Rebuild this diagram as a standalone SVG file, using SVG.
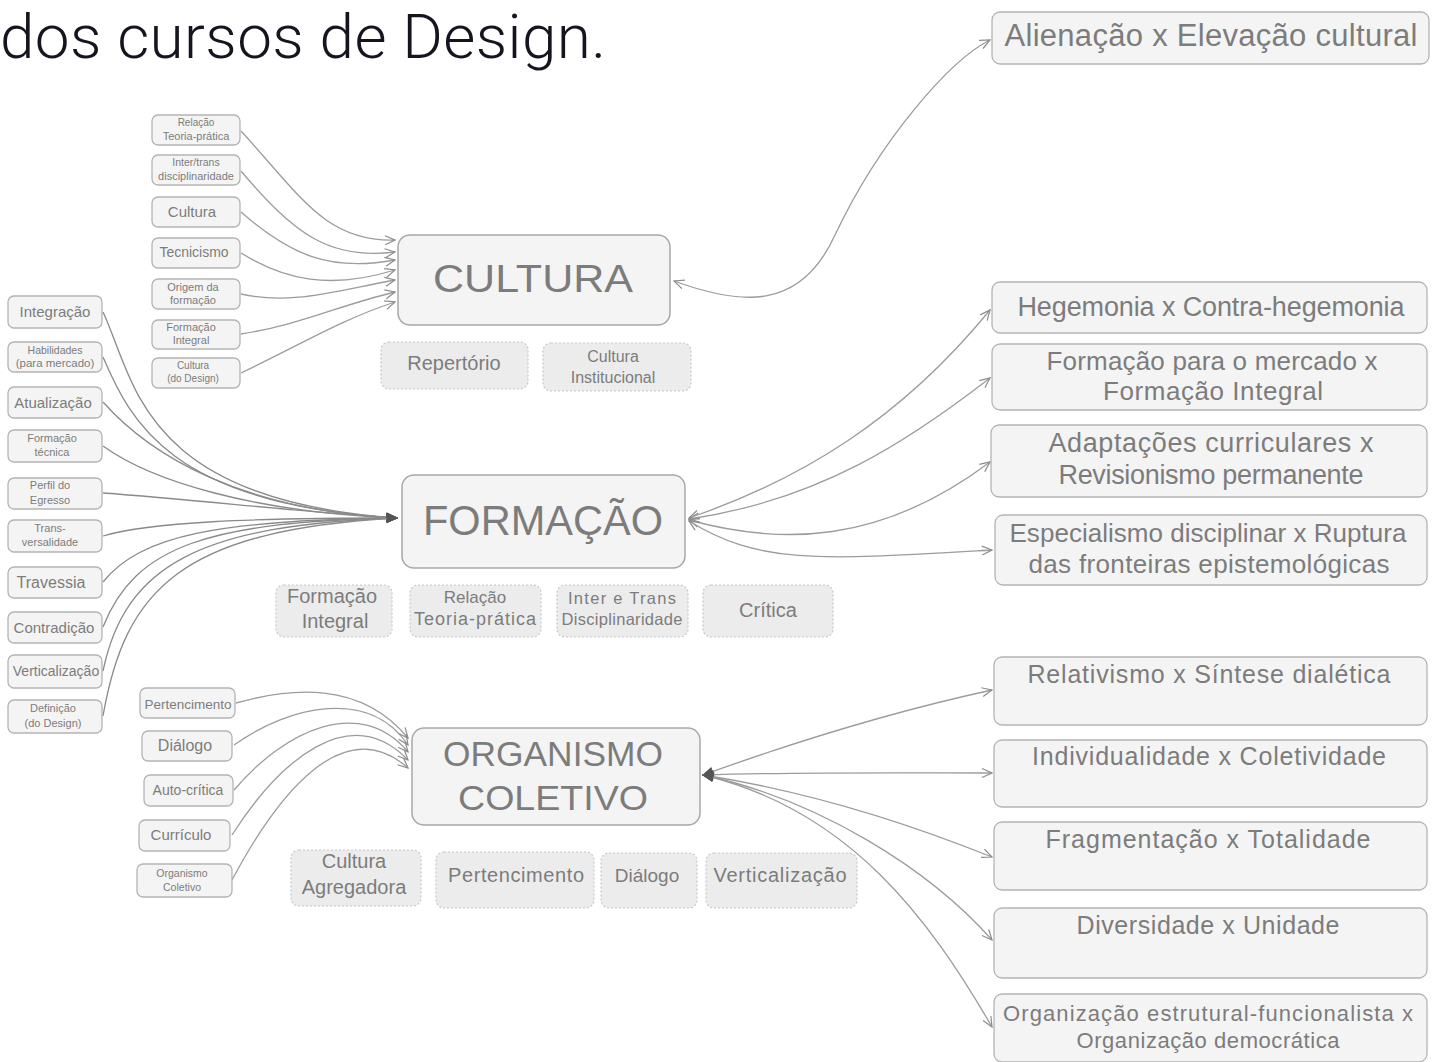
<svg xmlns="http://www.w3.org/2000/svg" width="1442" height="1062" viewBox="0 0 1442 1062">
<style>
  .title{font-family:Roboto,"Liberation Sans",sans-serif;font-weight:300;fill:#15151f}
  .t{font-family:"Liberation Sans","DejaVu Sans",sans-serif;fill:#7c7c7c;text-anchor:middle}
  .main{fill:#f4f4f4;stroke:#a8a8a8;stroke-width:1.5}
  .box{fill:#f4f4f4;stroke:#b4b4b4;stroke-width:1.3}
  .sub{fill:#ececec;stroke:#c8c8c8;stroke-width:1.2;stroke-dasharray:2 2}
  .c{fill:none;stroke:#9c9c9c;stroke-width:1.3}
  .cd{fill:none;stroke:#8a8a8a;stroke-width:1.3}
</style>
<defs>
  <marker id="ah" viewBox="0 0 12 12" refX="11" refY="6" markerWidth="12" markerHeight="12" markerUnits="userSpaceOnUse" orient="auto-start-reverse">
    <path d="M1,1.5 L11,6 L1,10.5" fill="none" stroke="#8c8c8c" stroke-width="1.2"/>
  </marker>
  <marker id="ahd" viewBox="0 0 12 12" refX="11" refY="6" markerWidth="12" markerHeight="12" markerUnits="userSpaceOnUse" orient="auto-start-reverse">
    <path d="M1,2 L11,6 L1,10 Z" fill="#555" stroke="#555" stroke-width="1"/>
  </marker>
</defs>
<rect width="1442" height="1062" fill="#ffffff"/>
<text class="title" x="0" y="58" font-size="62" textLength="606">dos cursos de Design.</text>

<g id="connectors">
  <!-- into CULTURA -->
  <path class="c" marker-end="url(#ah)" d="M241,131 C300,195 325,242 395,240"/>
  <path class="c" marker-end="url(#ah)" d="M241,171 C295,235 330,260 395,252"/>
  <path class="c" marker-end="url(#ah)" d="M241,212 C290,255 330,272 395,260"/>
  <path class="c" marker-end="url(#ah)" d="M241,253 C285,280 330,290 395,270"/>
  <path class="c" marker-end="url(#ah)" d="M241,294 C290,305 330,292 395,280"/>
  <path class="c" marker-end="url(#ah)" d="M241,334 C300,325 340,305 395,292"/>
  <path class="c" marker-end="url(#ah)" d="M241,373 C300,345 340,320 395,302"/>
  <!-- CULTURA <-> Alienação -->
  <path class="c" marker-start="url(#ah)" marker-end="url(#ah)" d="M674,281 C740,305 800,312 835,235 C880,140 950,60 990,40"/>
  <!-- into FORMAÇÃO -->
  <path class="cd" marker-end="url(#ahd)" d="M103,312 C135,380 140,500 397,518"/>
  <path class="cd" marker-end="url(#ahd)" d="M103,357 C130,420 170,505 397,518"/>
  <path class="cd" marker-end="url(#ahd)" d="M103,402 C150,455 240,510 397,518"/>
  <path class="cd" marker-end="url(#ahd)" d="M103,446 C150,480 250,512 397,518"/>
  <path class="cd" marker-end="url(#ahd)" d="M103,493 C200,500 300,512 397,518"/>
  <path class="cd" marker-end="url(#ahd)" d="M103,536 C150,522 250,518 397,518"/>
  <path class="cd" marker-end="url(#ahd)" d="M103,582 C140,535 220,520 397,518"/>
  <path class="cd" marker-end="url(#ahd)" d="M103,627 C135,545 210,522 397,518"/>
  <path class="cd" marker-end="url(#ahd)" d="M103,671 C125,565 200,525 397,518"/>
  <path class="cd" marker-end="url(#ahd)" d="M103,716 C125,590 180,530 397,518"/>
  <!-- FORMAÇÃO <-> right -->
  <path class="c" marker-start="url(#ah)" marker-end="url(#ah)" d="M689,518 C800,480 900,420 990,310"/>
  <path class="c" marker-start="url(#ah)" marker-end="url(#ah)" d="M689,519 C820,500 910,440 990,378"/>
  <path class="c" marker-start="url(#ah)" marker-end="url(#ah)" d="M689,520 C780,545 880,545 990,462"/>
  <path class="c" marker-start="url(#ah)" marker-end="url(#ah)" d="M689,521 C760,565 820,560 992,550"/>
  <!-- into ORGANISMO COLETIVO -->
  <path class="c" marker-end="url(#ah)" d="M236,703 C290,688 360,680 408,738"/>
  <path class="c" marker-end="url(#ah)" d="M234,745 C290,705 370,688 408,745"/>
  <path class="c" marker-end="url(#ah)" d="M234,790 C285,730 360,695 408,752"/>
  <path class="c" marker-end="url(#ah)" d="M232,835 C280,760 350,700 408,760"/>
  <path class="c" marker-end="url(#ah)" d="M232,880 C280,790 345,712 408,768"/>
  <!-- ORGANISMO COLETIVO -> right -->
  <path class="c" marker-start="url(#ahd)" marker-end="url(#ah)" d="M703,775 C800,740 900,710 992,690"/>
  <path class="c" marker-start="url(#ahd)" marker-end="url(#ah)" d="M703,775 C800,772 900,773 992,773"/>
  <path class="c" marker-start="url(#ahd)" marker-end="url(#ah)" d="M703,775 C800,790 900,820 992,857"/>
  <path class="c" marker-start="url(#ahd)" marker-end="url(#ah)" d="M703,775 C820,800 930,870 992,940"/>
  <path class="c" marker-start="url(#ahd)" marker-end="url(#ah)" d="M703,775 C850,810 930,920 992,1027"/>
</g>

<!-- CULTURA cluster -->
<g id="cultura">
  <rect class="main" x="398" y="235" width="272" height="90" rx="12"/>
  <text class="t" x="533" y="292" font-size="39" textLength="200" lengthAdjust="spacingAndGlyphs">CULTURA</text>
</g>
<g id="c-relacao"><rect class="box" x="152" y="115" width="88" height="30" rx="6"/><text class="t" x="196" y="126" font-size="10">Relação</text><text class="t" x="196" y="140" font-size="11">Teoria-prática</text></g>
<g id="c-inter"><rect class="box" x="152" y="155" width="88" height="30" rx="6"/><text class="t" x="196" y="166" font-size="10.5">Inter/trans</text><text class="t" x="196" y="180" font-size="11">disciplinaridade</text></g>
<g id="c-cultura"><rect class="box" x="152" y="197" width="88" height="30" rx="6"/><text class="t" x="192" y="217" font-size="15">Cultura</text></g>
<g id="c-tecnicismo"><rect class="box" x="152" y="238" width="88" height="30" rx="6"/><text class="t" x="194" y="257" font-size="14">Tecnicismo</text></g>
<g id="c-origem"><rect class="box" x="152" y="279" width="88" height="30" rx="6"/><text class="t" x="193" y="291" font-size="11">Origem da</text><text class="t" x="193" y="304" font-size="11">formação</text></g>
<g id="c-formint"><rect class="box" x="152" y="320" width="88" height="29" rx="6"/><text class="t" x="191" y="331" font-size="11">Formação</text><text class="t" x="191" y="344" font-size="11">Integral</text></g>
<g id="c-culturadesign"><rect class="box" x="152" y="358" width="88" height="30" rx="6"/><text class="t" x="193" y="369" font-size="10">Cultura</text><text class="t" x="193" y="382" font-size="10">(do Design)</text></g>
<g id="repertorio"><rect class="sub" x="381" y="342" width="147" height="47" rx="8"/><text class="t" x="454" y="370" font-size="20">Repertório</text></g>
<g id="cultura-inst"><rect class="sub" x="543" y="343" width="148" height="48" rx="8"/><text class="t" x="613" y="362" font-size="16">Cultura</text><text class="t" x="613" y="383" font-size="16">Institucional</text></g>

<!-- FORMAÇÃO cluster -->
<g id="formacao">
  <rect class="main" x="402" y="475" width="283" height="93" rx="12"/>
  <text class="t" x="543" y="535" font-size="43" textLength="240" lengthAdjust="spacingAndGlyphs">FORMAÇÃO</text>
</g>
<g id="f-integracao"><rect class="box" x="8" y="296" width="94" height="32" rx="6"/><text class="t" x="55" y="317" font-size="15">Integração</text></g>
<g id="f-habilidades"><rect class="box" x="8" y="342" width="94" height="30" rx="6"/><text class="t" x="55" y="354" font-size="10.5">Habilidades</text><text class="t" x="55" y="367" font-size="11.5">(para mercado)</text></g>
<g id="f-atualizacao"><rect class="box" x="8" y="387" width="94" height="31" rx="6"/><text class="t" x="53" y="408" font-size="15">Atualização</text></g>
<g id="f-tecnica"><rect class="box" x="8" y="430" width="94" height="32" rx="6"/><text class="t" x="52" y="442" font-size="11">Formação</text><text class="t" x="52" y="456" font-size="11">técnica</text></g>
<g id="f-perfil"><rect class="box" x="8" y="478" width="94" height="31" rx="6"/><text class="t" x="50" y="489" font-size="11">Perfil do</text><text class="t" x="50" y="504" font-size="11">Egresso</text></g>
<g id="f-trans"><rect class="box" x="8" y="520" width="94" height="32" rx="6"/><text class="t" x="50" y="532" font-size="11">Trans-</text><text class="t" x="50" y="546" font-size="11">versalidade</text></g>
<g id="f-travessia"><rect class="box" x="8" y="567" width="94" height="31" rx="6"/><text class="t" x="51" y="588" font-size="16">Travessia</text></g>
<g id="f-contradicao"><rect class="box" x="8" y="612" width="94" height="31" rx="6"/><text class="t" x="54" y="633" font-size="15">Contradição</text></g>
<g id="f-verticalizacao"><rect class="box" x="8" y="655" width="94" height="33" rx="6"/><text class="t" x="56" y="676" font-size="14">Verticalização</text></g>
<g id="f-definicao"><rect class="box" x="8" y="700" width="94" height="33" rx="6"/><text class="t" x="53" y="712" font-size="11">Definição</text><text class="t" x="53" y="727" font-size="11">(do Design)</text></g>
<g id="sf-formint"><rect class="sub" x="276" y="585" width="116" height="52" rx="8"/><text class="t" x="332" y="603" font-size="20">Formação</text><text class="t" x="335" y="628" font-size="20">Integral</text></g>
<g id="sf-relacao"><rect class="sub" x="410" y="585" width="131" height="52" rx="8"/><text class="t" x="475" y="603" font-size="17">Relação</text><text class="t" x="475" y="625" font-size="18" textLength="122">Teoria-prática</text></g>
<g id="sf-inter"><rect class="sub" x="557" y="585" width="131" height="52" rx="8"/><text class="t" x="622" y="604" font-size="16.5" textLength="108">Inter e Trans</text><text class="t" x="622" y="625" font-size="16.5" textLength="121">Disciplinaridade</text></g>
<g id="sf-critica"><rect class="sub" x="703" y="585" width="130" height="52" rx="8"/><text class="t" x="768" y="617" font-size="20">Crítica</text></g>

<!-- ORGANISMO COLETIVO cluster -->
<g id="organismo">
  <rect class="main" x="412" y="728" width="288" height="97" rx="12"/>
  <text class="t" x="553" y="766" font-size="35" textLength="220" lengthAdjust="spacingAndGlyphs">ORGANISMO</text>
  <text class="t" x="553" y="810" font-size="35" textLength="190" lengthAdjust="spacingAndGlyphs">COLETIVO</text>
</g>
<g id="o-pertencimento"><rect class="box" x="140" y="688" width="95" height="30" rx="6"/><text class="t" x="188" y="709" font-size="13.5">Pertencimento</text></g>
<g id="o-dialogo"><rect class="box" x="142" y="731" width="90" height="30" rx="6"/><text class="t" x="185" y="751" font-size="16">Diálogo</text></g>
<g id="o-autocritica"><rect class="box" x="144" y="775" width="89" height="31" rx="6"/><text class="t" x="188" y="795" font-size="14">Auto-crítica</text></g>
<g id="o-curriculo"><rect class="box" x="139" y="820" width="91" height="31" rx="6"/><text class="t" x="181" y="840" font-size="15">Currículo</text></g>
<g id="o-organismo"><rect class="box" x="137" y="864" width="95" height="33" rx="6"/><text class="t" x="182" y="877" font-size="10.5">Organismo</text><text class="t" x="182" y="891" font-size="10.5">Coletivo</text></g>
<g id="so-cultagreg"><rect class="sub" x="291" y="850" width="130" height="56" rx="8"/><text class="t" x="354" y="868" font-size="20">Cultura</text><text class="t" x="354" y="894" font-size="20">Agregadora</text></g>
<g id="so-pertencimento"><rect class="sub" x="436" y="852" width="158" height="56" rx="8"/><text class="t" x="516" y="882" font-size="20" textLength="136">Pertencimento</text></g>
<g id="so-dialogo"><rect class="sub" x="601" y="853" width="96" height="55" rx="8"/><text class="t" x="647" y="882" font-size="19">Diálogo</text></g>
<g id="so-verticalizacao"><rect class="sub" x="706" y="853" width="151" height="55" rx="8"/><text class="t" x="780" y="882" font-size="20" textLength="133">Verticalização</text></g>

<!-- right side boxes -->
<g id="r-alienacao"><rect class="box" x="992" y="12" width="437" height="52" rx="8"/><text class="t" x="1211" y="46" font-size="31" textLength="413">Alienação x Elevação cultural</text></g>
<g id="r-hegemonia"><rect class="box" x="992" y="282" width="435" height="51" rx="8"/><text class="t" x="1211" y="316" font-size="27" textLength="387">Hegemonia x Contra-hegemonia</text></g>
<g id="r-mercado"><rect class="box" x="992" y="344" width="435" height="66" rx="8"/><text class="t" x="1212" y="370" font-size="26" textLength="331">Formação para o mercado x</text><text class="t" x="1213" y="400" font-size="26" textLength="220">Formação Integral</text></g>
<g id="r-adaptacoes"><rect class="box" x="991" y="425" width="436" height="72" rx="8"/><text class="t" x="1211" y="452" font-size="27" textLength="325">Adaptações curriculares x</text><text class="t" x="1211" y="484" font-size="27" textLength="305">Revisionismo permanente</text></g>
<g id="r-especialismo"><rect class="box" x="995" y="515" width="432" height="70" rx="8"/><text class="t" x="1208" y="542" font-size="26" textLength="397">Especialismo disciplinar x Ruptura</text><text class="t" x="1209" y="573" font-size="26" textLength="361">das fronteiras epistemológicas</text></g>
<g id="r-relativismo"><rect class="box" x="994" y="657" width="433" height="68" rx="8"/><text class="t" x="1209" y="683" font-size="25" textLength="363">Relativismo x Síntese dialética</text></g>
<g id="r-individualidade"><rect class="box" x="994" y="740" width="433" height="67" rx="8"/><text class="t" x="1209" y="765" font-size="25" textLength="354">Individualidade x Coletividade</text></g>
<g id="r-fragmentacao"><rect class="box" x="994" y="822" width="433" height="68" rx="8"/><text class="t" x="1208" y="848" font-size="25" textLength="325">Fragmentação x Totalidade</text></g>
<g id="r-diversidade"><rect class="box" x="994" y="908" width="433" height="70" rx="8"/><text class="t" x="1208" y="934" font-size="25" textLength="263">Diversidade x Unidade</text></g>
<g id="r-organizacao"><rect class="box" x="994" y="994" width="433" height="68" rx="8"/><text class="t" x="1208" y="1021" font-size="22" textLength="410">Organização estrutural-funcionalista x</text><text class="t" x="1208" y="1048" font-size="22" textLength="263">Organização democrática</text></g>
</svg>
